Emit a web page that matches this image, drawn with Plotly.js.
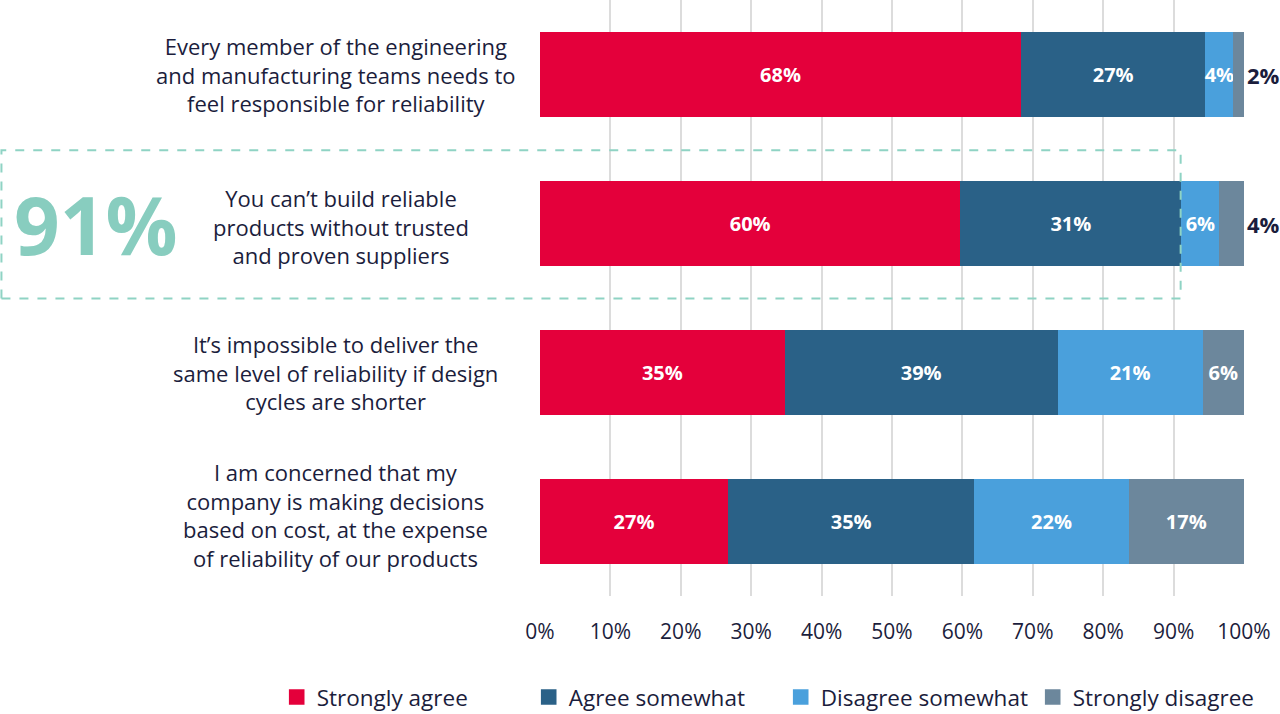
<!DOCTYPE html>
<html><head><meta charset="utf-8">
<script src="https://cdn.plot.ly/plotly-3.0.1.min.js"></script>
<style>body{margin:0;background:#fff}#chart{width:1280px;height:714px}</style>
</head><body><div id="chart"></div>
<script>
const categories = [
  "Every member of the engineering<br>and manufacturing teams needs to<br>feel responsible for reliability",
  "You can\u2019t build reliable<br>products without trusted<br>and proven suppliers",
  "It\u2019s impossible to deliver the<br>same level of reliability if design<br>cycles are shorter",
  "I am concerned that my<br>company is making decisions<br>based on cost, at the expense<br>of reliability of our products"
];
const seriesNames = ["Strongly agree", "Agree somewhat", "Disagree somewhat", "Strongly disagree"];
// bar lengths
const stronglyAgree = [68.4, 59.7, 34.8, 26.7];
const agreeSomewhat = [26.2, 31.4, 38.8, 35.0];
const disagreeSomewhat = [4.0, 5.4, 20.6, 21.9];
const stronglyDisagree = [1.5, 3.5, 5.9, 16.4];
// printed percentage labels
const stronglyAgreeLabels = ["68%", "60%", "35%", "27%"];
const agreeSomewhatLabels = ["27%", "31%", "39%", "35%"];
const disagreeSomewhatLabels = ["4%", "6%", "21%", "22%"];
const stronglyDisagreeLabels = ["2%", "4%", "6%", "17%"];
const highlightLabel = "91%";
const highlightShare = 91;
const xTicks = [0,10,20,30,40,50,60,70,80,90,100];
const xTickText = ["0%","10%","20%","30%","40%","50%","60%","70%","80%","90%","100%"];

const colors = ["#e4003b", "#2a6187", "#4aa0dc", "#6c879c"];
const navy = "#1b1d3c";
const font = "'Open Sans', sans-serif";
const series = [stronglyAgree, agreeSomewhat, disagreeSomewhat, stronglyDisagree];
const labels = [stronglyAgreeLabels, agreeSomewhatLabels, disagreeSomewhatLabels, stronglyDisagreeLabels];
const ids = categories.map((c, i) => "c" + i);

const traces = series.map((vals, k) => {
  const last = k === 3;
  return {
    type: "bar", orientation: "h", name: seriesNames[k],
    x: vals, y: ids,
    marker: {color: colors[k], line: {width: 0}},
    text: labels[k],
    textposition: last ? vals.map(v => v < 5 ? "outside" : "inside") : "inside",
    insidetextanchor: "middle",
    textangle: 0,
    insidetextfont: {family: font, size: 20, weight: 700, color: "#fff"},
    outsidetextfont: {family: font, size: 22, weight: 700, color: navy},
    constraintext: "none",
    cliponaxis: false,
    hoverinfo: "skip"
  };
});

const annotations = categories.map((c, i) => ({
  xref: "paper", yref: "y", x: i === 1 ? -0.283 : -0.290, y: ids[i], text: c,
  yshift: i === 3 ? 7 : (i === 1 ? -3 : 0),
  showarrow: false, xanchor: "center", yanchor: "middle", align: "center",
  font: {family: font, size: 22, color: navy}
}));
annotations.push({
  xref: "paper", yref: "y", x: -0.63, y: ids[1], text: highlightLabel,
  showarrow: false, xanchor: "center", yanchor: "middle",
  font: {family: font, size: 80, weight: 700, color: "#88cdbf"}
});

const layout = {
  width: 1280, height: 714,
  margin: {l: 540, r: 36, t: 0, b: 118, autoexpand: false},
  barmode: "stack", barnorm: "percent", bargap: 0.43,
  paper_bgcolor: "#fff", plot_bgcolor: "#fff",
  showlegend: true,
  legend: {orientation: "h", x: -0.374, xanchor: "left", y: -0.17, yanchor: "middle",
    font: {family: font, size: 22.5, color: navy}, traceorder: "normal",
    entrywidth: 207, entrywidthmode: "pixels"},
  xaxis: {range: [0, 100], tickmode: "array", tickvals: xTicks, ticktext: xTickText, showgrid: true, gridcolor: "#dcdcdc", gridwidth: 2,
    zeroline: false, showline: false, ticks: "", ticklabelstandoff: 21,
    tickfont: {family: font, size: 21, color: navy}, fixedrange: true},
  yaxis: {autorange: "reversed", showticklabels: false, showgrid: false, zeroline: false, ticks: "", fixedrange: true},
  annotations: annotations,
  shapes: [{type: "rect", xref: "paper", yref: "paper", x0: -0.765, x1: highlightShare / 100, y0: 0.499, y1: 0.748,
    line: {color: "#8fd3c4", width: 2, dash: "dash"}, fillcolor: "rgba(0,0,0,0)", layer: "above"}]
};
Plotly.newPlot("chart", traces, layout, {displayModeBar: false, staticPlot: true}).then(gd => {
  gd.querySelectorAll(".legend .legendpoints path").forEach(p => {
    p.setAttribute("transform", (p.getAttribute("transform") || "") + " scale(1.3)");
  });
});
</script></body></html>
